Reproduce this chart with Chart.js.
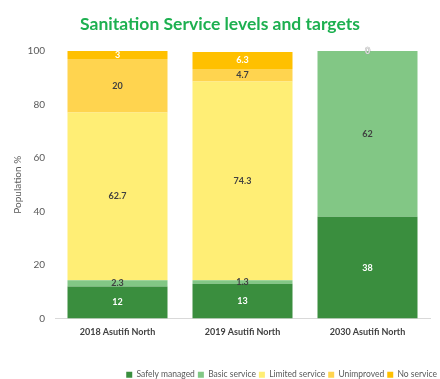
<!DOCTYPE html>
<html><head><meta charset="utf-8">
<script src="https://cdn.jsdelivr.net/npm/chart.js@4"></script>
<style>html,body{margin:0;padding:0;background:#fff}#wrap{width:440px;height:379px}</style>
</head><body><div id="wrap"><canvas id="c" width="440" height="379"></canvas></div>
<script>
const categories = ["2018 Asutifi North", "2019 Asutifi North", "2030 Asutifi North"];
const seriesNames = ["Safely managed", "Basic service", "Limited service", "Unimproved", "No service"];
const safelyManaged = [12, 13, 38];
const basicService = [2.3, 1.3, 62];
const limitedService = [62.7, 74.3, null];
const unimproved = [20, 4.7, null];
const noService = [3, 6.3, 0];
const yTicks = [0, 20, 40, 60, 80, 100];

const colors = ["#3A8E3E", "#82C785", "#FFEE75", "#FFD44F", "#FFC000"];
const labelColors = ["#ffffff", "#404040", "#404040", "#404040", "#ffffff"];
const allData = [safelyManaged, basicService, limitedService, unimproved, noService];
const FONT = "Lato, 'Open Sans', sans-serif";

const labelPlugin = {
  id: 'segLabels',
  afterDatasetsDraw(chart) {
    const ctx = chart.ctx;
    ctx.save();
    ctx.font = "bold 9px " + FONT;
    ctx.textAlign = 'center';
    ctx.textBaseline = 'middle';
    chart.data.datasets.forEach((ds, di) => {
      const meta = chart.getDatasetMeta(di);
      meta.data.forEach((bar, i) => {
        const v = ds.data[i];
        if (v === null || v === undefined) return;
        const y = (bar.y + bar.base) / 2;
        if (v === 0) {
          ctx.fillStyle = '#e0e0e0';
          ctx.strokeStyle = '#9a9a9a';
          ctx.lineWidth = 0.6;
          ctx.strokeText(String(v), bar.x, y);
          ctx.fillText(String(v), bar.x, y);
        } else {
          ctx.fillStyle = labelColors[di];
          ctx.fillText(String(v), bar.x, y);
        }
      });
    });
    ctx.restore();
  }
};

new Chart(document.getElementById('c'), {
  type: 'bar',
  data: {
    labels: categories,
    datasets: seriesNames.map((n, i) => ({
      label: n,
      data: allData[i],
      backgroundColor: colors[i],
      borderWidth: 0,
      categoryPercentage: 0.8,
      barPercentage: 1.0
    }))
  },
  options: {
    responsive: false,
    animation: false,
    layout: { padding: { left: 0, right: 0, top: 0, bottom: -10 } },
    plugins: {
      title: {
        display: true,
        text: 'Sanitation Service levels and targets',
        color: '#1DB050',
        font: { family: FONT, size: 17.5, weight: 'bold' },
        padding: { top: 14, bottom: 16 }
      },
      legend: {
        position: 'bottom',
        align: 'end',
        labels: {
          boxWidth: 6, boxHeight: 6, padding: 3,
          color: '#595959',
          font: { family: FONT, size: 8.5 }
        }
      },
      tooltip: { enabled: false }
    },
    scales: {
      x: {
        stacked: true,
        grid: { display: false, drawTicks: false },
        border: { display: true, color: '#d9d9d9', width: 1 },
        afterFit(a) { a.height = 49; },
        ticks: {
          color: '#404040', padding: 8,
          font: { family: FONT, size: 9, weight: 'bold' }
        }
      },
      y: {
        stacked: true,
        min: 0, max: 100,
        afterBuildTicks(axis) { axis.ticks = yTicks.map(v => ({ value: v })); },
        afterFit(a) { a.width = 55; },
        grid: { display: false, drawTicks: false },
        border: { display: false },
        title: {
          display: true, text: 'Population %', color: '#595959',
          font: { family: FONT, size: 10 },
          padding: { top: 12, bottom: 0 }
        },
        ticks: {
          color: '#595959', padding: 10,
          font: { family: FONT, size: 10 }
        }
      },
      yR: {
        position: 'right',
        display: true,
        afterFit(a) { a.width = 10; },
        grid: { display: false, drawTicks: false },
        border: { display: false },
        ticks: { display: false }
      }
    }
  },
  plugins: [labelPlugin]
});
</script></body></html>
